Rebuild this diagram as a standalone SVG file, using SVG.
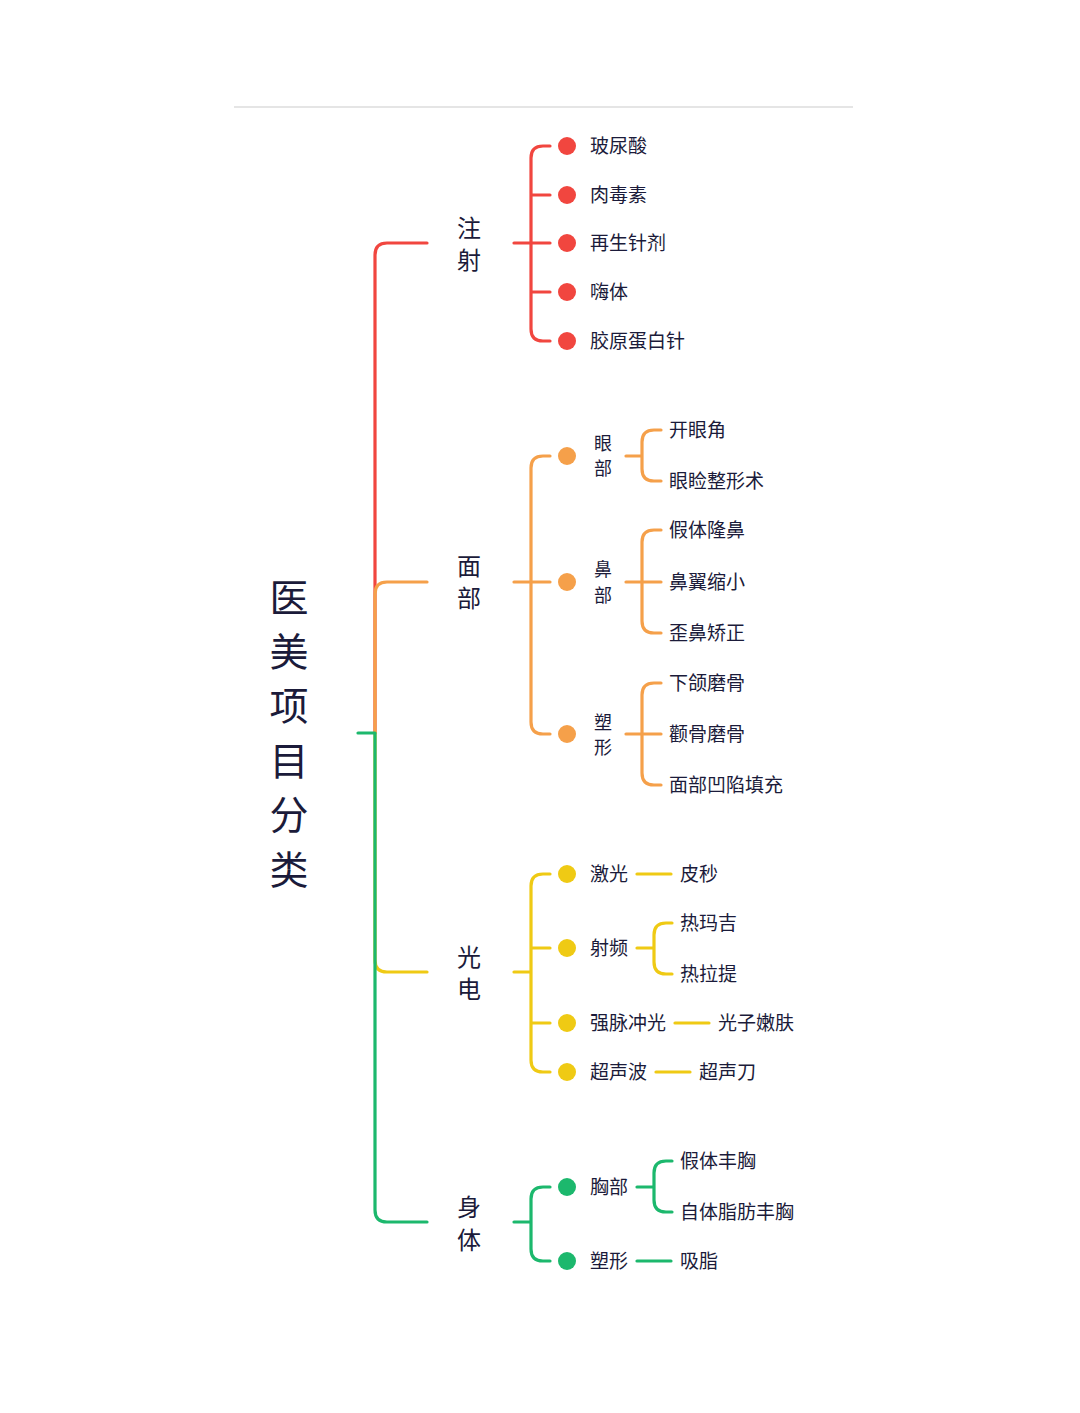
<svg xmlns="http://www.w3.org/2000/svg" width="1080" height="1413" viewBox="0 0 1080 1413">
<style>
text{font-family:"Noto Sans CJK SC","Noto Sans",sans-serif;fill:#1b1b3a;dominant-baseline:central;transform:translateY(-1.5px)}
.t{font-size:19px}
.v{font-size:18px;text-anchor:middle}
.l1{font-size:24px;text-anchor:middle}
.root{font-size:39px;text-anchor:middle;transform:translateY(-3px)}
.c{fill:none;stroke-width:3.2;stroke-linecap:round;stroke-linejoin:round}
.r{stroke:#f1463f}.o{stroke:#f5a04a}.y{stroke:#efca14}.g{stroke:#1cb86d}
.dr{fill:#f1463f}.do{fill:#f5a04a}.dy{fill:#efca14}.dg{fill:#1cb86d}
</style>
<rect width="1080" height="1413" fill="#fff"/>
<line x1="234" y1="107" x2="853" y2="107" stroke="#dcdcdc" stroke-width="1.5"/>
<g id="connectors">
<path class="c r" d="M375,733 V255 Q375,243 387,243 H427"/>
<path class="c o" d="M375,733 V594 Q375,582 387,582 H427"/>
<path class="c y" d="M375,733 V960 Q375,972 387,972 H427"/>
<path class="c g" d="M358,733 H375 V1210 Q375,1222 387,1222 H427"/>
<path class="c r" d="M514,243 H550 M550,146 H543 Q531,146 531,158 V329 Q531,341 543,341 H550 M531,195 H550 M531,292 H550"/>
<path class="c o" d="M514,582 H550 M550,456 H543 Q531,456 531,468 V722 Q531,734 543,734 H550"/>
<path class="c o" d="M626,456 H642 M661,430 H654 Q642,430 642,442 V469 Q642,481 654,481 H661"/>
<path class="c o" d="M626,582 H661 M661,530 H654 Q642,530 642,542 V621 Q642,633 654,633 H661"/>
<path class="c o" d="M626,734 H661 M661,683 H654 Q642,683 642,695 V773 Q642,785 654,785 H661"/>
<path class="c y" d="M514,972 H531 M550,874 H543 Q531,874 531,886 V1060 Q531,1072 543,1072 H550 M531,948 H550 M531,1023 H550"/>
<path class="c y" d="M637,874 H671"/>
<path class="c y" d="M637,948 H654 M672,923 H666 Q654,923 654,935 V962 Q654,974 666,974 H672"/>
<path class="c y" d="M675,1023 H709"/>
<path class="c y" d="M656,1072 H690"/>
<path class="c g" d="M514,1222 H531 M550,1187 H543 Q531,1187 531,1199 V1249 Q531,1261 543,1261 H550"/>
<path class="c g" d="M637,1187 H654 M672,1161 H666 Q654,1161 654,1173 V1200 Q654,1212 666,1212 H672"/>
<path class="c g" d="M637,1261 H671"/>
</g>
<g id="root"><text class="root" x="289" y="598">医</text><text class="root" x="289" y="652">美</text><text class="root" x="289" y="706">项</text><text class="root" x="289" y="761">目</text><text class="root" x="289" y="815">分</text><text class="root" x="289" y="870">类</text></g>
<g id="injection"><text class="l1" x="469" y="228">注</text><text class="l1" x="469" y="260">射</text></g>
<g id="inj-1"><circle class="dr" cx="567" cy="146" r="9"/><text class="t" x="590" y="146">玻尿酸</text></g>
<g id="inj-2"><circle class="dr" cx="567" cy="195" r="9"/><text class="t" x="590" y="195">肉毒素</text></g>
<g id="inj-3"><circle class="dr" cx="567" cy="243" r="9"/><text class="t" x="590" y="243">再生针剂</text></g>
<g id="inj-4"><circle class="dr" cx="567" cy="292" r="9"/><text class="t" x="590" y="292">嗨体</text></g>
<g id="inj-5"><circle class="dr" cx="567" cy="341" r="9"/><text class="t" x="590" y="341">胶原蛋白针</text></g>
<g id="face"><text class="l1" x="469" y="566">面</text><text class="l1" x="469" y="598">部</text></g>
<g id="face-eye"><circle class="do" cx="567" cy="456" r="9"/><text class="v" x="603" y="443">眼</text><text class="v" x="603" y="468">部</text></g>
<g id="eye-1"><text class="t" x="669" y="430">开眼角</text></g>
<g id="eye-2"><text class="t" x="669" y="481">眼睑整形术</text></g>
<g id="face-nose"><circle class="do" cx="567" cy="582" r="9"/><text class="v" x="603" y="569">鼻</text><text class="v" x="603" y="595">部</text></g>
<g id="nose-1"><text class="t" x="669" y="530">假体隆鼻</text></g>
<g id="nose-2"><text class="t" x="669" y="582">鼻翼缩小</text></g>
<g id="nose-3"><text class="t" x="669" y="633">歪鼻矫正</text></g>
<g id="face-shape"><circle class="do" cx="567" cy="734" r="9"/><text class="v" x="603" y="722">塑</text><text class="v" x="603" y="747">形</text></g>
<g id="shape-1"><text class="t" x="669" y="683">下颌磨骨</text></g>
<g id="shape-2"><text class="t" x="669" y="734">颧骨磨骨</text></g>
<g id="shape-3"><text class="t" x="669" y="785">面部凹陷填充</text></g>
<g id="opto"><text class="l1" x="469" y="957">光</text><text class="l1" x="469" y="989">电</text></g>
<g id="opto-laser"><circle class="dy" cx="567" cy="874" r="9"/><text class="t" x="590" y="874">激光</text></g>
<g id="laser-1"><text class="t" x="680" y="874">皮秒</text></g>
<g id="opto-rf"><circle class="dy" cx="567" cy="948" r="9"/><text class="t" x="590" y="948">射频</text></g>
<g id="rf-1"><text class="t" x="680" y="923">热玛吉</text></g>
<g id="rf-2"><text class="t" x="680" y="974">热拉提</text></g>
<g id="opto-ipl"><circle class="dy" cx="567" cy="1023" r="9"/><text class="t" x="590" y="1023">强脉冲光</text></g>
<g id="ipl-1"><text class="t" x="718" y="1023">光子嫩肤</text></g>
<g id="opto-us"><circle class="dy" cx="567" cy="1072" r="9"/><text class="t" x="590" y="1072">超声波</text></g>
<g id="us-1"><text class="t" x="699" y="1072">超声刀</text></g>
<g id="body"><text class="l1" x="469" y="1207">身</text><text class="l1" x="469" y="1240">体</text></g>
<g id="body-chest"><circle class="dg" cx="567" cy="1187" r="9"/><text class="t" x="590" y="1187">胸部</text></g>
<g id="chest-1"><text class="t" x="680" y="1161">假体丰胸</text></g>
<g id="chest-2"><text class="t" x="680" y="1212">自体脂肪丰胸</text></g>
<g id="body-shape"><circle class="dg" cx="567" cy="1261" r="9"/><text class="t" x="590" y="1261">塑形</text></g>
<g id="bshape-1"><text class="t" x="680" y="1261">吸脂</text></g>
</svg>
